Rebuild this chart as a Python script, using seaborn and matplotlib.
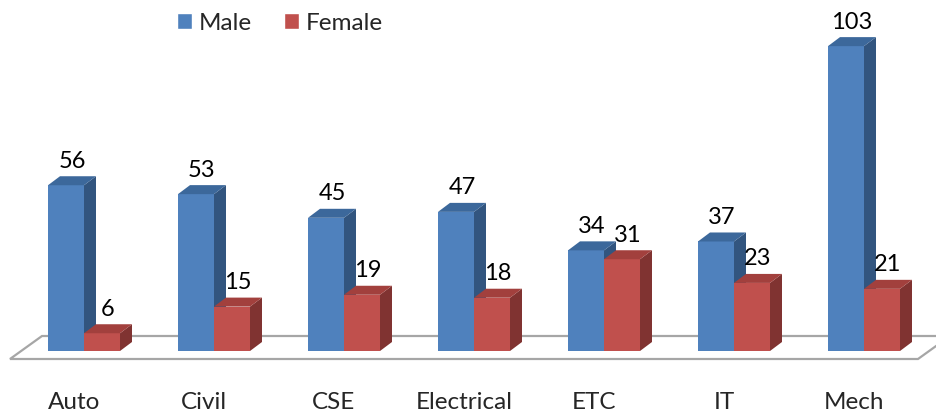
import numpy as np
import pandas as pd
import matplotlib
matplotlib.use("Agg")
import matplotlib.pyplot as plt
from matplotlib.patches import Polygon, Patch
import seaborn as sns

departments = ["Auto", "Civil", "CSE", "Electrical", "ETC", "IT", "Mech"]
male = [56, 53, 45, 47, 34, 37, 103]
female = [6, 15, 19, 18, 31, 23, 21]
genders = ["Male", "Female"]

front_colors = {"Male": "#4F81BD", "Female": "#C0504D"}
top_colors = {"Male": "#3C689B", "Female": "#A2403D"}
side_colors = {"Male": "#32557F", "Female": "#803331"}

df = pd.DataFrame({"Department": departments * 2,
                   "Gender": ["Male"] * len(male) + ["Female"] * len(female),
                   "Count": male + female})

# layout in pixels (Excel-like 3D look)
W, H, DPI = 937, 414, 100
step = 130.0      # px between category centres
first = 84.0      # px of first category centre
base = 62.0       # px from bottom to bar base
ppu = 2.96        # px per count unit

sns.set_style("white")
plt.rcParams['font.family'] = ['Lato', 'DejaVu Sans']

fig = plt.figure(figsize=(W / DPI, H / DPI), dpi=DPI)
ax = fig.add_axes([0, base / H, 1, (H - base) / H])

sns.barplot(data=df, x="Department", y="Count", hue="Gender", palette=front_colors,
            width=72 / step, saturation=1, legend=False, ax=ax)

ax.set_xlim(-first / step, (W - first) / step)
ax.set_ylim(0, (H - base) / ppu)

# depth offsets in data units
dx = 12 / step
dy = 9 / ppu

for z, (container, g) in enumerate(zip(ax.containers, genders)):
    for bar in container:
        x0, w, h = bar.get_x(), bar.get_width(), bar.get_height()
        bar.set_zorder(3 + z)
        bar.set_linewidth(0)
        side = Polygon([(x0 + w, 0), (x0 + w + dx, dy), (x0 + w + dx, h + dy), (x0 + w, h)],
                       closed=True, fc=side_colors[g], lw=0, zorder=3 + z)
        top = Polygon([(x0, h), (x0 + dx, h + dy), (x0 + w + dx, h + dy), (x0 + w, h)],
                      closed=True, fc=top_colors[g], lw=0, zorder=3 + z)
        ax.add_patch(side)
        ax.add_patch(top)
        ax.annotate(f"{h:.0f}", (x0 + w / 2 + dx / 2, h + dy), xytext=(0, 4),
                    textcoords="offset points", ha="center", va="bottom",
                    fontsize=17, color="black", zorder=6)

# floor
fy0 = -8 / ppu
fdx, fdy = 32 / step, 23 / ppu
fx0, fx1 = (10 - first) / step, (918 - first) / step
floor = Polygon([(fx0, fy0), (fx1, fy0), (fx1 + fdx, fy0 + fdy), (fx0 + fdx, fy0 + fdy)],
                closed=True, fc="white", ec="#A6A6A6", lw=1.6, clip_on=False, zorder=1)
ax.add_patch(floor)

ax.set_xticks(np.arange(len(departments)) - 10 / step, departments)
ax.set_yticks([])
ax.tick_params(axis="x", length=0, pad=28.5, labelsize=17.5)
ax.set_xlabel("")
ax.set_ylabel("")
sns.despine(ax=ax, left=True, bottom=True)

handles = [Patch(fc=front_colors[g]) for g in genders]
fig.legend(handles, genders, loc="upper center", bbox_to_anchor=(280 / W, 1.0),
           ncol=2, frameon=False, fontsize=17.5, handlelength=0.62, handleheight=0.62,
           handletextpad=0.3, columnspacing=1.3, borderpad=0.05)

fig.savefig("out.png", dpi=DPI)
